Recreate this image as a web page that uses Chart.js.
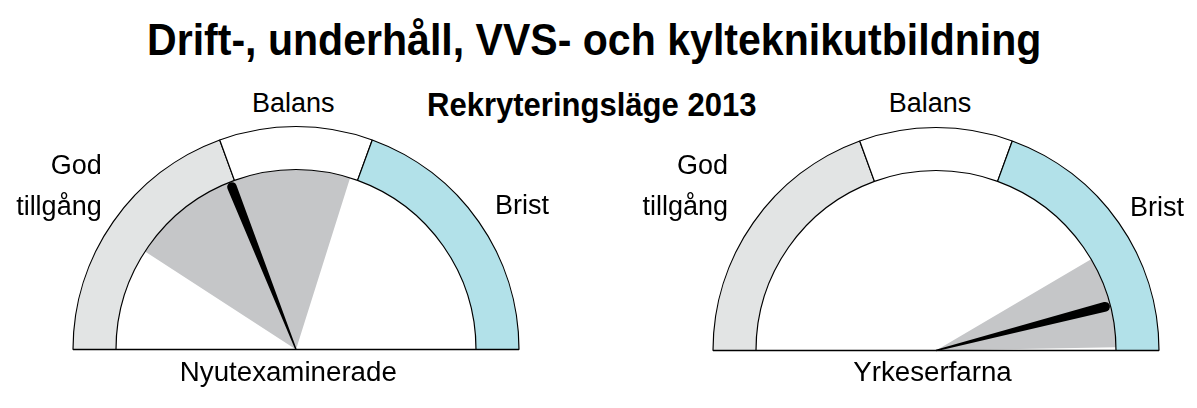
<!DOCTYPE html>
<html>
<head>
<meta charset="utf-8">
<script src="https://cdn.jsdelivr.net/npm/chart.js@4.4.1/dist/chart.umd.min.js"></script>
<style>
  html, body { margin: 0; padding: 0; background: #fff; }
  body { width: 1197px; height: 408px; position: relative; overflow: hidden;
         font-family: "Liberation Sans", Arial, Helvetica, sans-serif; color: #000; }
  .t { position: absolute; white-space: nowrap; line-height: 1; }
  .title { font-weight: bold; font-size: 45px; transform-origin: 0 0; }
  .sub { font-weight: bold; font-size: 32.5px; transform-origin: 0 0; }
  .lab { font-size: 27px; }
  .bot { font-size: 27.7px; }
  .wrap { position: absolute; width: 460px; height: 240px; }
</style>
</head>
<body>
<div id="title" class="t title">Drift-, underhåll, VVS- och kylteknikutbildning</div>
<div id="sub" class="t sub">Rekryteringsläge 2013</div>

<div class="wrap" style="left:65.5px; top:118px;"><canvas id="g0" width="460" height="240"></canvas></div>
<div class="wrap" style="left:706.3px; top:118.5px;"><canvas id="g1" width="460" height="240"></canvas></div>

<div id="labels"></div>

<script>
// ---- data ----
const zones = ['God tillgång', 'Balans', 'Brist'];
const zoneSizes = [70, 40, 70];
const groups = ['Nyutexaminerade', 'Yrkeserfarna'];
const needleValues = [68.5, 165.5];
const rangeLow = [33, 149.5];
const rangeHigh = [107.5, 179];

// ---- text layout ----
function fitText(id, left, targetWidth, baseline, size) {
  const el = document.getElementById(id);
  const w = el.getBoundingClientRect().width;
  const s = targetWidth / w;
  el.style.left = left + 'px';
  el.style.top = (baseline - 0.8465 * size) + 'px';
  el.style.transform = 'scaleX(' + s + ')';
}
fitText('title', 147.3, 894.4, 55, 45);
fitText('sub', 427.3, 329.4, 116.7, 32.5);

const labelsEl = document.getElementById('labels');
function addLabel(text, cls, x, baseline, size, align) {
  const d = document.createElement('div');
  d.className = 't ' + cls;
  d.textContent = text;
  labelsEl.appendChild(d);
  const w = d.getBoundingClientRect().width;
  let left = x;
  if (align === 'center') left = x - w / 2;
  if (align === 'right') left = x - w;
  d.style.left = left + 'px';
  d.style.top = (baseline - 0.8465 * size) + 'px';
}
const godWords = zones[0].split(' ');
// left gauge
addLabel(godWords[0], 'lab', 101.7, 175, 27, 'right');
addLabel(godWords[1], 'lab', 101.7, 216, 27, 'right');
addLabel(zones[1], 'lab', 293.3, 113.3, 27, 'center');
addLabel(zones[2], 'lab', 495, 215, 27, 'left');
addLabel(groups[0], 'bot', 288.3, 381.7, 27.7, 'center');
// right gauge
addLabel(godWords[0], 'lab', 728, 175, 27, 'right');
addLabel(godWords[1], 'lab', 728, 216, 27, 'right');
addLabel(zones[1], 'lab', 930, 113.3, 27, 'center');
addLabel(zones[2], 'lab', 1130, 216.5, 27, 'left');
addLabel(groups[1], 'bot', 932.5, 381.7, 27.7, 'center');

// ---- gauges ----
const gaugePlugin = {
  id: 'gauge',
  afterDatasetsDraw(chart, args, opts) {
    const meta = chart.getDatasetMeta(0);
    const arcs = meta.data;
    const first = arcs[0], last = arcs[arcs.length - 1];
    const cx = first.x, cy = first.y, R = first.outerRadius, r = first.innerRadius;
    const a0 = first.startAngle, a1 = last.endAngle;
    const total = meta.total;
    const ctx = chart.ctx;
    ctx.save();
    // baseline
    ctx.strokeStyle = '#000';
    ctx.lineWidth = 1.5;
    ctx.beginPath();
    ctx.moveTo(cx - R, cy);
    ctx.lineTo(cx + R, cy);
    ctx.stroke();
    // needle
    const a = a0 + (opts.value / total) * (a1 - a0);
    const dx = Math.cos(a), dy = Math.sin(a);
    const px = -dy, py = dx;
    const capR = 4.8;
    const L = r - capR - 0.5;
    ctx.fillStyle = '#000';
    ctx.beginPath();
    ctx.moveTo(cx + px * 0.7, cy + py * 0.7);
    ctx.lineTo(cx + dx * L + px * capR, cy + dy * L + py * capR);
    ctx.arc(cx + dx * L, cy + dy * L, capR, a + Math.PI / 2, a - Math.PI / 2, true);
    ctx.lineTo(cx - px * 0.7, cy - py * 0.7);
    ctx.closePath();
    ctx.fill();
    ctx.restore();
  }
};

function makeGauge(id, i) {
  const total = zoneSizes.reduce((s, v) => s + v, 0);
  new Chart(document.getElementById(id), {
    type: 'doughnut',
    data: {
      labels: zones,
      datasets: [
        {
          data: zoneSizes,
          backgroundColor: ['#e2e4e4', '#ffffff', '#b2e1e9'],
          borderColor: '#000',
          borderWidth: 1.2,
          weight: 43
        },
        {
          data: [rangeLow[i], rangeHigh[i] - rangeLow[i], total - rangeHigh[i]],
          backgroundColor: ['rgba(0,0,0,0)', '#c5c6c8', 'rgba(0,0,0,0)'],
          borderWidth: 0,
          weight: 180
        }
      ]
    },
    options: {
      responsive: false,
      animation: false,
      events: [],
      rotation: -90,
      circumference: 180,
      cutout: 0,
      radius: 223,
      layout: { padding: 0 },
      plugins: {
        legend: { display: false },
        tooltip: { enabled: false },
        title: { display: false },
        gauge: { value: needleValues[i] }
      }
    },
    plugins: [gaugePlugin]
  });
}
makeGauge('g0', 0);
makeGauge('g1', 1);
</script>
</body>
</html>
